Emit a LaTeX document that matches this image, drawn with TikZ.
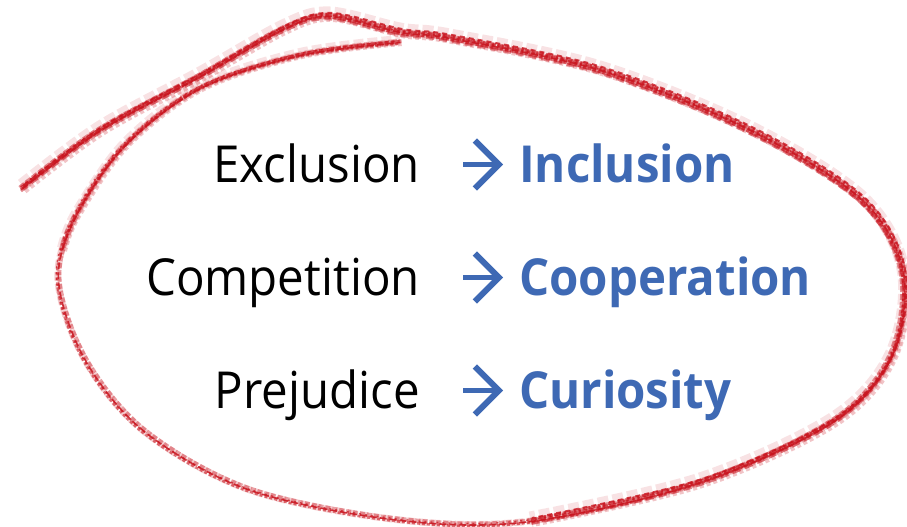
\documentclass[tikz,border=0pt]{standalone}
\usepackage{fontspec}
\setmainfont{Open Sans}[FakeStretch=0.93]
\usepackage{xcolor}
\usepackage{tikz}
\usetikzlibrary{positioning, arrows.meta, calc}
\definecolor{inkred}{HTML}{C8141E}
\definecolor{shiftblue}{HTML}{3E69B4}

\tikzset{
    before/.style={inner sep=0pt, font=\fontsize{51}{60}\selectfont, text=black},
    after/.style={inner sep=0pt, font=\fontsize{51}{60}\selectfont\bfseries, text=shiftblue},
    pointer/.style={draw=shiftblue, line width=5pt,
        -{Straight Barb[length=24pt, width=48pt, line width=6pt]},
        shorten <=43pt, shorten >=16pt},
    pencil/.style={draw=inkred, line cap=butt, line join=round}
}

\begin{document}
\begin{tikzpicture}[x=1pt, y=-1pt]
    \useasboundingbox (0,0) rectangle (907,527);

    % the red ring, gone over a few times like crayon
    \foreach \dx/\dy/\w/\op/\on/\off in {0/0/7/0.2/9/3, 1.5/-1/4/0.4/5/2, -1/1.5/2.5/0.6/3/2,
                                          0.5/0.5/1.6/0.85/7/3, -1.5/-1/1.4/0.7/2/4}
        \draw[pencil, line width=\w pt, opacity=\op, shift={(\dx,\dy)},
              dash pattern=on \on pt off \off pt]
            plot[smooth, tension=0.55] coordinates {
                (22,188) (100,130) (200,76) (285,28) (330,16) (400,32) (450,38)
                (600,70) (750,130) (862,200) (903,272) (892,355) (835,420)
                (700,482) (530,521) (400,520) (250,490) (145,432)
                (85,360) (58,280) (76,215) (125,145) (200,88) (300,55) (400,42)};
    % heavier strokes along the top and right
    \foreach \dx/\dy/\w/\op/\on/\off in {0/-3/13/0.12/11/4, 2/2/8/0.25/4/3, -2/0/5/0.45/6/2,
                                          1/-1.5/3/0.7/2/3, -1/3/3/0.5/8/5, 2/-3/2/0.8/5/4}
        \draw[pencil, line width=\w pt, opacity=\op, shift={(\dx,\dy)},
              dash pattern=on \on pt off \off pt]
            plot[smooth, tension=0.55] coordinates {
                (22,188) (100,130) (200,76) (285,28) (330,16) (400,32) (450,38)
                (600,70) (750,130) (862,200) (903,272) (892,355) (835,420)
                (700,482) (530,521)};
    % and where the ring closes at the top left
    \foreach \dx/\dy/\w/\op/\on/\off in {0/-2/10/0.12/10/4, 2/1/6/0.25/4/3, -1/0/4/0.45/6/2,
                                          1/-1/2.5/0.65/3/3}
        \draw[pencil, line width=\w pt, opacity=\op, shift={(\dx,\dy)},
              dash pattern=on \on pt off \off pt]
            plot[smooth, tension=0.55] coordinates {
                (62,250) (76,215) (125,145) (200,88) (300,55) (400,42)};

    % old habits on the left, new ones on the right
    \node[before, anchor=base east] (ex) at (420,182) {Exclusion};
    \node[before, anchor=base east] (co) at (420,295) {Competition};
    \node[before, anchor=base east] (pr) at (420,408) {Prejudice};

    \node[after, anchor=base west] (in) at (519,182) {Inclusion};
    \node[after, anchor=base west] (cp) at (519,295) {Cooperation};
    \node[after, anchor=base west] (cu) at (519,408) {Curiosity};

    \draw[pointer] ([yshift=17.5pt]ex.base east) -- ([yshift=17.5pt]in.base west);
    \draw[pointer] ([yshift=17.5pt]co.base east) -- ([yshift=17.5pt]cp.base west);
    \draw[pointer] ([yshift=17.5pt]pr.base east) -- ([yshift=17.5pt]cu.base west);
\end{tikzpicture}
\end{document}
